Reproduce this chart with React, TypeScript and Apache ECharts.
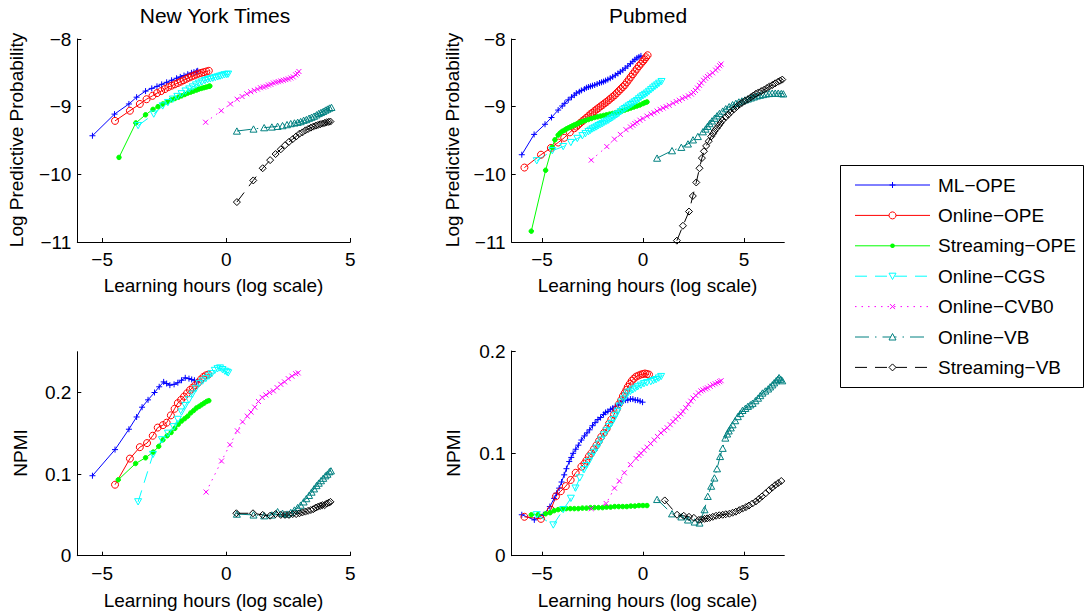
import React, { useEffect, useRef } from 'react';
import * as echarts from 'echarts';

// ---------- Data (x = log learning hours) ----------
const SERIES_NAMES = ['ML−OPE', 'Online−OPE', 'Streaming−OPE', 'Online−CGS', 'Online−CVB0', 'Online−VB', 'Streaming−VB'];
const PANEL_TITLES = ['New York Times', 'Pubmed'];
const X_TICKS = [-5, 0, 5];
const NPMI_NYT_TICKS = [0, 0.1, 0.2];

// New York Times — Log Predictive Probability
const nytLppMlOpe = [[-5.39,-9.43],[-4.5,-9.11],[-3.92,-8.96],[-3.61,-8.86],[-3.25,-8.77],[-3.0,-8.73],[-2.79,-8.70],[-2.6,-8.67],[-2.4,-8.64],[-2.2,-8.61],[-2.0,-8.58],[-1.85,-8.56],[-1.7,-8.54],[-1.55,-8.52],[-1.4,-8.50],[-1.3,-8.49],[-1.2,-8.48],[-1.15,-8.47]];
const nytLppOnlineOpe = [[-4.48,-9.21],[-3.88,-9.06],[-3.48,-8.96],[-3.21,-8.89],[-2.97,-8.84],[-2.79,-8.80],[-2.62,-8.77],[-2.47,-8.74],[-2.33,-8.71],[-2.2,-8.69],[-2.07,-8.67],[-1.95,-8.65],[-1.83,-8.63],[-1.72,-8.61],[-1.61,-8.59],[-1.5,-8.57],[-1.4,-8.555],[-1.3,-8.54],[-1.2,-8.525],[-1.1,-8.51],[-1.0,-8.50],[-0.9,-8.49],[-0.8,-8.48],[-0.7,-8.47]];
const nytLppStreamingOpe = [[-4.32,-9.75],[-3.64,-9.24],[-3.25,-9.12],[-2.95,-9.04],[-2.75,-9.0],[-2.55,-8.96],[-2.38,-8.93],[-2.22,-8.90],[-2.07,-8.88],[-1.93,-8.86],[-1.8,-8.84],[-1.67,-8.82],[-1.55,-8.80],[-1.43,-8.785],[-1.32,-8.77],[-1.2,-8.755],[-1.1,-8.74],[-1.0,-8.73],[-0.9,-8.72],[-0.8,-8.71],[-0.7,-8.70],[-0.66,-8.695]];
const nytLppOnlineCgs = [[-3.55,-9.28],[-2.92,-9.11],[-2.56,-8.99],[-2.35,-8.94],[-2.15,-8.89],[-1.97,-8.85],[-1.8,-8.81],[-1.64,-8.77],[-1.49,-8.74],[-1.35,-8.71],[-1.22,-8.68],[-1.1,-8.655],[-0.98,-8.635],[-0.86,-8.615],[-0.75,-8.60],[-0.64,-8.59],[-0.54,-8.58],[-0.44,-8.57],[-0.34,-8.56],[-0.25,-8.55],[-0.16,-8.54],[-0.07,-8.53],[0.02,-8.525],[0.08,-8.52]];
const nytLppOnlineCvb0 = [[-0.83,-9.23],[-0.2,-9.06],[0.17,-8.96],[0.44,-8.89],[0.64,-8.85],[0.83,-8.81],[0.99,-8.78],[1.13,-8.76],[1.26,-8.74],[1.38,-8.72],[1.5,-8.71],[1.6,-8.70],[1.7,-8.68],[1.8,-8.67],[1.9,-8.65],[2.0,-8.64],[2.1,-8.63],[2.2,-8.62],[2.3,-8.61],[2.4,-8.60],[2.5,-8.59],[2.6,-8.575],[2.7,-8.56],[2.8,-8.53],[2.87,-8.51],[2.93,-8.48]];
const nytLppOnlineVb = [[0.43,-9.36],[1.1,-9.33],[1.53,-9.31],[1.84,-9.30],[2.07,-9.29],[2.27,-9.28],[2.45,-9.265],[2.6,-9.25],[2.75,-9.24],[2.88,-9.23],[3.0,-9.22],[3.12,-9.20],[3.23,-9.19],[3.34,-9.17],[3.44,-9.155],[3.54,-9.14],[3.64,-9.12],[3.73,-9.10],[3.82,-9.085],[3.91,-9.07],[4.0,-9.05],[4.08,-9.035],[4.16,-9.02],[4.24,-9.01]];
const nytLppStreamingVb = [[0.43,-10.41],[1.09,-10.09],[1.47,-9.91],[1.77,-9.79],[1.99,-9.70],[2.2,-9.63],[2.37,-9.57],[2.53,-9.52],[2.68,-9.48],[2.82,-9.44],[2.95,-9.40],[3.07,-9.38],[3.19,-9.35],[3.3,-9.33],[3.41,-9.31],[3.51,-9.295],[3.61,-9.28],[3.7,-9.27],[3.79,-9.26],[3.88,-9.25],[3.97,-9.24],[4.05,-9.23],[4.13,-9.225],[4.2,-9.22]];

// Pubmed — Log Predictive Probability
const pmLppMlOpe = [[-6.0,-9.71],[-5.39,-9.41],[-4.85,-9.26],[-4.53,-9.16],[-4.2,-9.05],[-4.0,-8.99],[-3.87,-8.95],[-3.7,-8.90],[-3.54,-8.86],[-3.4,-8.83],[-3.3,-8.80],[-3.15,-8.78],[-3.05,-8.76],[-2.9,-8.74],[-2.8,-8.72],[-2.7,-8.71],[-2.6,-8.70],[-2.5,-8.69],[-2.39,-8.68],[-2.27,-8.665],[-2.15,-8.65],[-2.05,-8.64],[-1.95,-8.63],[-1.85,-8.615],[-1.74,-8.60],[-1.62,-8.58],[-1.5,-8.56],[-1.37,-8.535],[-1.24,-8.51],[-1.12,-8.485],[-1.0,-8.46],[-0.88,-8.43],[-0.75,-8.40],[-0.62,-8.365],[-0.5,-8.33],[-0.4,-8.305],[-0.3,-8.28],[-0.2,-8.265],[-0.1,-8.25]];
const pmLppOnlineOpe = [[-5.87,-9.90],[-5.05,-9.71],[-4.56,-9.61],[-4.2,-9.53],[-3.9,-9.46],[-3.62,-9.38],[-3.4,-9.32],[-3.3,-9.295],[-3.21,-9.27],[-3.1,-9.24],[-3.0,-9.215],[-2.9,-9.19],[-2.8,-9.165],[-2.7,-9.14],[-2.6,-9.11],[-2.5,-9.09],[-2.4,-9.065],[-2.3,-9.04],[-2.2,-9.02],[-2.1,-8.995],[-2.0,-8.975],[-1.9,-8.95],[-1.8,-8.93],[-1.7,-8.905],[-1.6,-8.88],[-1.5,-8.855],[-1.4,-8.83],[-1.3,-8.80],[-1.2,-8.77],[-1.1,-8.74],[-1.0,-8.71],[-0.9,-8.68],[-0.8,-8.64],[-0.7,-8.60],[-0.6,-8.56],[-0.5,-8.52],[-0.4,-8.48],[-0.3,-8.44],[-0.2,-8.40],[-0.1,-8.365],[0.0,-8.33],[0.08,-8.30],[0.15,-8.27],[0.23,-8.24]];
const pmLppStreamingOpe = [[-5.53,-10.84],[-4.82,-9.94],[-4.5,-9.60],[-4.36,-9.49],[-4.2,-9.42],[-4.1,-9.39],[-4.0,-9.365],[-3.9,-9.35],[-3.8,-9.33],[-3.7,-9.315],[-3.6,-9.30],[-3.5,-9.285],[-3.4,-9.27],[-3.3,-9.26],[-3.2,-9.245],[-3.1,-9.23],[-3.0,-9.22],[-2.85,-9.205],[-2.7,-9.19],[-2.55,-9.175],[-2.4,-9.16],[-2.25,-9.15],[-2.1,-9.14],[-1.95,-9.13],[-1.8,-9.12],[-1.65,-9.11],[-1.5,-9.10],[-1.35,-9.09],[-1.2,-9.08],[-1.05,-9.065],[-0.9,-9.05],[-0.75,-9.035],[-0.6,-9.02],[-0.45,-9.005],[-0.3,-8.99],[-0.15,-8.975],[0.0,-8.955],[0.1,-8.94],[0.2,-8.93]];
const pmLppOnlineCgs = [[-5.26,-9.80],[-4.49,-9.65],[-3.95,-9.59],[-3.57,-9.53],[-3.25,-9.47],[-3.0,-9.43],[-2.85,-9.40],[-2.7,-9.37],[-2.6,-9.35],[-2.5,-9.33],[-2.4,-9.315],[-2.3,-9.30],[-2.2,-9.28],[-2.1,-9.265],[-2.0,-9.25],[-1.9,-9.23],[-1.8,-9.215],[-1.7,-9.20],[-1.6,-9.18],[-1.5,-9.16],[-1.4,-9.14],[-1.3,-9.12],[-1.2,-9.10],[-1.1,-9.075],[-1.0,-9.05],[-0.9,-9.03],[-0.8,-9.01],[-0.7,-8.99],[-0.6,-8.97],[-0.5,-8.95],[-0.4,-8.93],[-0.3,-8.91],[-0.2,-8.885],[-0.1,-8.86],[0.0,-8.84],[0.1,-8.82],[0.2,-8.80],[0.3,-8.775],[0.4,-8.75],[0.5,-8.725],[0.6,-8.70],[0.7,-8.68],[0.8,-8.655],[0.92,-8.63]];
const pmLppOnlineCvb0 = [[-2.56,-9.79],[-1.79,-9.59],[-1.41,-9.48],[-1.12,-9.41],[-0.84,-9.34],[-0.62,-9.30],[-0.5,-9.275],[-0.4,-9.25],[-0.3,-9.23],[-0.15,-9.20],[0.0,-9.175],[0.2,-9.14],[0.4,-9.11],[0.55,-9.09],[0.7,-9.065],[0.85,-9.04],[1.0,-9.02],[1.15,-9.00],[1.3,-8.98],[1.49,-8.95],[1.65,-8.925],[1.8,-8.905],[1.95,-8.88],[2.1,-8.86],[2.25,-8.84],[2.4,-8.815],[2.5,-8.79],[2.6,-8.76],[2.7,-8.725],[2.8,-8.685],[2.89,-8.65],[3.0,-8.61],[3.1,-8.58],[3.2,-8.555],[3.3,-8.53],[3.45,-8.50],[3.6,-8.46],[3.7,-8.43],[3.8,-8.395],[3.87,-8.37]];
const pmLppOnlineVb = [[0.7,-9.76],[1.44,-9.65],[1.9,-9.60],[2.23,-9.55],[2.48,-9.49],[2.72,-9.44],[2.97,-9.37],[3.1,-9.33],[3.2,-9.29],[3.3,-9.25],[3.42,-9.21],[3.55,-9.17],[3.67,-9.135],[3.79,-9.10],[3.95,-9.065],[4.1,-9.03],[4.27,-9.0],[4.44,-8.97],[4.6,-8.95],[4.75,-8.93],[4.9,-8.915],[5.05,-8.90],[5.2,-8.885],[5.35,-8.87],[5.5,-8.855],[5.65,-8.84],[5.8,-8.83],[5.95,-8.82],[6.1,-8.81],[6.25,-8.805],[6.4,-8.80],[6.55,-8.80],[6.7,-8.80],[6.85,-8.805],[6.95,-8.81]];
const pmLppStreamingVb = [[1.68,-10.98],[1.98,-10.76],[2.28,-10.55],[2.47,-10.32],[2.64,-10.12],[2.8,-9.91],[2.92,-9.76],[3.02,-9.66],[3.13,-9.58],[3.26,-9.51],[3.38,-9.44],[3.47,-9.40],[3.55,-9.36],[3.65,-9.32],[3.75,-9.28],[3.85,-9.24],[3.95,-9.20],[4.1,-9.155],[4.22,-9.12],[4.35,-9.08],[4.5,-9.04],[4.63,-9.005],[4.77,-8.97],[4.9,-8.945],[5.05,-8.915],[5.2,-8.89],[5.35,-8.86],[5.47,-8.835],[5.59,-8.81],[5.72,-8.79],[5.86,-8.77],[6.0,-8.75],[6.14,-8.725],[6.27,-8.70],[6.41,-8.68],[6.55,-8.655],[6.7,-8.63],[6.8,-8.615],[6.9,-8.60]];

// New York Times — NPMI
const nytNpmiMlOpe = [[-5.39,0.098],[-4.48,0.130],[-3.92,0.155],[-3.61,0.170],[-3.39,0.182],[-3.15,0.191],[-2.89,0.200],[-2.7,0.207],[-2.52,0.213],[-2.4,0.211],[-2.27,0.209],[-2.1,0.210],[-1.95,0.212],[-1.8,0.215],[-1.65,0.218],[-1.5,0.217],[-1.39,0.216],[-1.28,0.215],[-1.19,0.213]];
const nytNpmiOnlineOpe = [[-4.48,0.087],[-3.88,0.119],[-3.48,0.133],[-3.19,0.138],[-2.96,0.147],[-2.76,0.157],[-2.55,0.160],[-2.4,0.163],[-2.23,0.172],[-2.08,0.180],[-1.95,0.187],[-1.82,0.191],[-1.7,0.195],[-1.58,0.199],[-1.46,0.203],[-1.35,0.206],[-1.24,0.209],[-1.13,0.212],[-1.02,0.216],[-0.92,0.219],[-0.82,0.221],[-0.72,0.222]];
const nytNpmiStreamingOpe = [[-4.35,0.093],[-3.65,0.113],[-3.25,0.120],[-2.94,0.127],[-2.72,0.134],[-2.55,0.142],[-2.38,0.147],[-2.22,0.151],[-2.07,0.156],[-1.93,0.161],[-1.8,0.165],[-1.67,0.168],[-1.55,0.171],[-1.43,0.175],[-1.31,0.178],[-1.2,0.181],[-1.09,0.183],[-0.99,0.185],[-0.89,0.187],[-0.79,0.189],[-0.7,0.190]];
const nytNpmiOnlineCgs = [[-3.55,0.066],[-2.95,0.124],[-2.59,0.142],[-2.35,0.150],[-2.12,0.158],[-1.95,0.167],[-1.8,0.176],[-1.65,0.184],[-1.5,0.191],[-1.36,0.198],[-1.22,0.205],[-1.08,0.211],[-0.95,0.214],[-0.82,0.217],[-0.7,0.220],[-0.58,0.223],[-0.46,0.227],[-0.35,0.229],[-0.25,0.230],[-0.15,0.228],[-0.05,0.226],[0.03,0.225],[0.08,0.224]];
const nytNpmiOnlineCvb0 = [[-0.81,0.078],[-0.19,0.116],[0.15,0.136],[0.45,0.153],[0.66,0.164],[0.85,0.171],[1.0,0.176],[1.15,0.182],[1.3,0.189],[1.45,0.194],[1.6,0.197],[1.75,0.200],[1.9,0.202],[2.05,0.206],[2.2,0.210],[2.35,0.213],[2.5,0.217],[2.65,0.220],[2.8,0.223],[2.9,0.224]];
const nytNpmiOnlineVb = [[0.43,0.051],[1.1,0.050],[1.53,0.049],[1.84,0.050],[2.07,0.054],[2.27,0.052],[2.45,0.051],[2.6,0.053],[2.75,0.056],[2.88,0.059],[3.0,0.062],[3.12,0.066],[3.23,0.070],[3.34,0.074],[3.44,0.078],[3.54,0.082],[3.64,0.086],[3.73,0.089],[3.82,0.092],[3.91,0.095],[4.0,0.098],[4.08,0.100],[4.16,0.103],[4.22,0.104]];
const nytNpmiStreamingVb = [[0.41,0.052],[1.08,0.052],[1.47,0.050],[1.77,0.049],[1.99,0.051],[2.2,0.050],[2.37,0.050],[2.53,0.050],[2.68,0.051],[2.82,0.051],[2.95,0.052],[3.07,0.053],[3.19,0.054],[3.3,0.055],[3.41,0.056],[3.51,0.057],[3.61,0.059],[3.7,0.060],[3.79,0.061],[3.88,0.062],[3.97,0.062],[4.05,0.064],[4.13,0.065],[4.2,0.066]];

// Pubmed — NPMI
const pmNpmiMlOpe = [[-6.0,0.040],[-5.38,0.035],[-4.93,0.040],[-4.61,0.048],[-4.4,0.056],[-4.28,0.061],[-4.15,0.066],[-4.03,0.072],[-3.9,0.079],[-3.79,0.085],[-3.65,0.092],[-3.55,0.096],[-3.46,0.100],[-3.33,0.104],[-3.2,0.108],[-3.05,0.113],[-2.9,0.117],[-2.77,0.120],[-2.64,0.123],[-2.5,0.127],[-2.37,0.130],[-2.23,0.133],[-2.1,0.135],[-1.95,0.138],[-1.85,0.140],[-1.74,0.141],[-1.6,0.143],[-1.5,0.144],[-1.37,0.146],[-1.24,0.147],[-1.1,0.149],[-1.0,0.151],[-0.87,0.152],[-0.75,0.152],[-0.62,0.153],[-0.5,0.153],[-0.38,0.152],[-0.26,0.152],[-0.14,0.151],[-0.02,0.150]];
const pmNpmiOnlineOpe = [[-5.87,0.038],[-5.05,0.036],[-4.56,0.045],[-4.31,0.058],[-4.07,0.063],[-3.82,0.068],[-3.58,0.074],[-3.33,0.081],[-3.05,0.087],[-2.9,0.090],[-2.8,0.093],[-2.68,0.097],[-2.56,0.100],[-2.43,0.104],[-2.3,0.108],[-2.18,0.112],[-2.07,0.116],[-1.93,0.120],[-1.8,0.124],[-1.68,0.129],[-1.57,0.133],[-1.43,0.138],[-1.3,0.143],[-1.19,0.148],[-1.08,0.152],[-0.99,0.156],[-0.9,0.159],[-0.82,0.162],[-0.75,0.165],[-0.65,0.168],[-0.55,0.171],[-0.45,0.173],[-0.34,0.175],[-0.22,0.176],[-0.1,0.177],[0.0,0.1775],[0.1,0.178],[0.2,0.1775],[0.3,0.177]];
const pmNpmiStreamingOpe = [[-5.53,0.040],[-5.2,0.040],[-4.82,0.041],[-4.6,0.042],[-4.4,0.044],[-4.2,0.045],[-4.0,0.0455],[-3.8,0.046],[-3.6,0.046],[-3.4,0.046],[-3.2,0.046],[-3.0,0.0465],[-2.8,0.0465],[-2.6,0.047],[-2.4,0.047],[-2.2,0.047],[-2.0,0.047],[-1.8,0.0475],[-1.6,0.0475],[-1.4,0.048],[-1.2,0.048],[-1.0,0.048],[-0.8,0.048],[-0.6,0.0485],[-0.4,0.0485],[-0.2,0.049],[0.0,0.049],[0.2,0.049]];
const pmNpmiOnlineCgs = [[-5.26,0.040],[-4.44,0.030],[-3.95,0.045],[-3.57,0.056],[-3.34,0.066],[-3.13,0.076],[-2.92,0.084],[-2.8,0.088],[-2.68,0.092],[-2.56,0.097],[-2.43,0.101],[-2.3,0.105],[-2.18,0.109],[-2.07,0.113],[-1.93,0.118],[-1.8,0.122],[-1.68,0.126],[-1.57,0.129],[-1.46,0.133],[-1.35,0.137],[-1.26,0.141],[-1.17,0.146],[-1.06,0.150],[-0.95,0.153],[-0.85,0.156],[-0.75,0.159],[-0.62,0.1605],[-0.5,0.162],[-0.38,0.1635],[-0.26,0.165],[-0.1,0.1665],[0.05,0.168],[0.2,0.169],[0.39,0.170],[0.52,0.171],[0.65,0.172],[0.78,0.1735],[0.9,0.175]];
const pmNpmiOnlineCvb0 = [[-2.56,0.046],[-1.82,0.051],[-1.41,0.066],[-1.17,0.073],[-0.92,0.081],[-0.62,0.089],[-0.34,0.095],[-0.2,0.098],[-0.1,0.100],[0.05,0.103],[0.2,0.106],[0.38,0.1095],[0.56,0.113],[0.72,0.1165],[0.89,0.120],[1.05,0.1225],[1.2,0.125],[1.35,0.128],[1.49,0.131],[1.62,0.1335],[1.75,0.136],[1.87,0.1385],[1.98,0.141],[2.12,0.1445],[2.25,0.148],[2.37,0.151],[2.48,0.154],[2.62,0.1565],[2.75,0.159],[2.87,0.161],[2.97,0.162],[3.1,0.163],[3.2,0.164],[3.33,0.1655],[3.46,0.167],[3.58,0.168],[3.7,0.169],[3.8,0.170],[3.87,0.171]];
const pmNpmiOnlineVb = [[0.7,0.055],[1.44,0.041],[1.9,0.038],[2.23,0.035],[2.56,0.033],[2.8,0.032],[3.05,0.045],[3.21,0.058],[3.38,0.068],[3.54,0.076],[3.67,0.085],[3.82,0.097],[3.95,0.105],[4.08,0.115],[4.17,0.119],[4.25,0.122],[4.35,0.125],[4.44,0.128],[4.57,0.132],[4.7,0.136],[4.82,0.139],[4.93,0.142],[5.07,0.144],[5.2,0.146],[5.32,0.1475],[5.43,0.149],[5.57,0.1515],[5.7,0.154],[5.81,0.1565],[5.92,0.159],[6.06,0.161],[6.2,0.163],[6.3,0.165],[6.41,0.167],[6.5,0.169],[6.6,0.171],[6.68,0.1725],[6.74,0.174],[6.82,0.1725],[6.9,0.171]];
const pmNpmiStreamingVb = [[1.08,0.054],[1.69,0.040],[2.02,0.039],[2.28,0.038],[2.52,0.037],[2.77,0.035],[2.9,0.0355],[3.05,0.036],[3.18,0.0365],[3.3,0.037],[3.46,0.038],[3.62,0.039],[3.78,0.0395],[3.95,0.040],[4.1,0.0405],[4.28,0.041],[4.44,0.042],[4.6,0.043],[4.77,0.0445],[4.93,0.046],[5.1,0.0475],[5.25,0.049],[5.42,0.051],[5.59,0.053],[5.75,0.0555],[5.9,0.058],[6.08,0.061],[6.25,0.064],[6.4,0.0665],[6.55,0.069],[6.7,0.071],[6.85,0.073]];

const PANELS = [
  [nytLppMlOpe, nytLppOnlineOpe, nytLppStreamingOpe, nytLppOnlineCgs, nytLppOnlineCvb0, nytLppOnlineVb, nytLppStreamingVb],
  [pmLppMlOpe, pmLppOnlineOpe, pmLppStreamingOpe, pmLppOnlineCgs, pmLppOnlineCvb0, pmLppOnlineVb, pmLppStreamingVb],
  [nytNpmiMlOpe, nytNpmiOnlineOpe, nytNpmiStreamingOpe, nytNpmiOnlineCgs, nytNpmiOnlineCvb0, nytNpmiOnlineVb, nytNpmiStreamingVb],
  [pmNpmiMlOpe, pmNpmiOnlineOpe, pmNpmiStreamingOpe, pmNpmiOnlineCgs, pmNpmiOnlineCvb0, pmNpmiOnlineVb, pmNpmiStreamingVb],
];

// ---------- Styles ----------
const FONT = '"Liberation Sans", Arial, Helvetica, sans-serif';
const COLORS = ['#0000ff', '#ff0000', '#00ff00', '#00ffff', '#ff00ff', '#008080', '#000000'];
const DASHED = [12, 8];
const DOTTED = [1.5, 5];
const DASHDOT = [14, 6, 1.5, 6];
const MARKERS = [
  { symbol: 'path://M5,0L5,10M0,5L10,5', size: 6, filled: true, dash: 'solid' as any },
  { symbol: 'circle', size: 7, filled: false, dash: 'solid' as any },
  { symbol: 'circle', size: 4.5, filled: true, dash: 'solid' as any },
  { symbol: 'path://M0,0L10,0L5,9Z', size: 7, filled: false, dash: DASHED as any },
  { symbol: 'path://M0,0L10,10M10,0L0,10', size: 5, filled: true, dash: DOTTED as any },
  { symbol: 'path://M5,0L10,9L0,9Z', size: 7, filled: false, dash: DASHDOT as any },
  { symbol: 'path://M5,0L10,5L5,10L0,5Z', size: 7, filled: false, dash: DASHED as any },
];

const GRIDS = [
  { left: 77.3, top: 39, width: 273, height: 203 },
  { left: 511.7, top: 39, width: 272.6, height: 203 },
  { left: 77.3, top: 351.7, width: 273, height: 204 },
  { left: 511.7, top: 351, width: 272.6, height: 204.7 },
];

const minus = (v: number) => String(v).replace('-', '−');

function buildOption() {
  const axisLineStyle = { color: '#000', width: 1 };
  const labelStyle = { fontSize: 19, color: '#000', fontFamily: FONT };
  const xAxis = GRIDS.map((_, i) => {
    const nyt = i % 2 === 0;
    return {
      type: 'value', gridIndex: i,
      min: nyt ? -6 : -6.5, max: nyt ? 5 : 7,
      axisLine: { show: true, onZero: false, lineStyle: axisLineStyle },
      axisTick: { show: true, inside: true, length: 4, lineStyle: axisLineStyle, customValues: X_TICKS },
      axisLabel: { ...labelStyle, margin: 8, customValues: X_TICKS, formatter: minus },
      splitLine: { show: false },
    };
  });
  const yAxis = GRIDS.map((_, i) => {
    const base: any = {
      type: 'value', gridIndex: i,
      axisLine: { show: true, onZero: false, lineStyle: axisLineStyle },
      axisTick: { show: true, inside: true, length: 4, lineStyle: axisLineStyle },
      axisLabel: { ...labelStyle, margin: 6, formatter: minus },
      splitLine: { show: false },
    };
    if (i < 2) { base.min = -11; base.max = -8; base.interval = 1; }
    else if (i === 2) {
      base.min = 0; base.max = 0.25;
      base.axisTick.customValues = NPMI_NYT_TICKS;
      base.axisLabel.customValues = NPMI_NYT_TICKS;
    } else { base.min = 0; base.max = 0.2; base.interval = 0.1; }
    return base;
  });

  const series: any[] = [];
  PANELS.forEach((panel, pi) => {
    panel.forEach((data, si) => {
      const m = MARKERS[si];
      const c = COLORS[si];
      series.push({
        type: 'line', name: SERIES_NAMES[si], xAxisIndex: pi, yAxisIndex: pi,
        data, symbol: m.symbol, symbolSize: m.size, symbolKeepAspect: true,
        showSymbol: true, clip: true,
        lineStyle: { color: c, width: 1, type: m.dash },
        itemStyle: { color: m.filled ? c : 'none', borderColor: c, borderWidth: 1 },
        emphasis: { disabled: true },
      });
    });
  });

  const txt = (text: string, x: number, y: number, size: number, rot = 0) => ({
    type: 'text', x, y, rotation: rot, silent: true,
    style: { text, fill: '#000', font: `${size}px ${FONT}`, textAlign: 'center', textVerticalAlign: 'middle' },
  });

  const graphic: any[] = [
    txt(PANEL_TITLES[0], 215, 15, 21),
    txt(PANEL_TITLES[1], 648, 15, 21),
    txt('Log Predictive Probability', 16, 140, 19, Math.PI / 2),
    txt('Log Predictive Probability', 452, 140, 19, Math.PI / 2),
    txt('NPMI', 20, 453, 19, Math.PI / 2),
    txt('NPMI', 453, 453, 19, Math.PI / 2),
    txt('Learning hours (log scale)', 213.5, 285, 19),
    txt('Learning hours (log scale)', 647.5, 285, 19),
    txt('Learning hours (log scale)', 213.5, 600, 19),
    txt('Learning hours (log scale)', 647.5, 600, 19),
    { type: 'rect', shape: { x: 840.5, y: 165.5, width: 243, height: 222 }, style: { fill: '#fff', stroke: '#000', lineWidth: 1 }, silent: true },
  ];

  SERIES_NAMES.forEach((name, i) => {
    const cy = 185 + i * 30.4;
    const cx = 892.5;
    const c = COLORS[i];
    const m = MARKERS[i];
    graphic.push({
      type: 'line', silent: true,
      shape: { x1: 855, y1: cy, x2: 930, y2: cy },
      style: { stroke: c, lineWidth: 1, lineDash: Array.isArray(m.dash) ? m.dash : null },
    });
    const st = { stroke: c, lineWidth: 1, fill: 'none' };
    if (i === 0 || i === 4) {
      const r = i === 0 ? 3 : 2.5;
      const segs = i === 0
        ? [[cx - r, cy, cx + r, cy], [cx, cy - r, cx, cy + r]]
        : [[cx - r, cy - r, cx + r, cy + r], [cx + r, cy - r, cx - r, cy + r]];
      segs.forEach(s => graphic.push({ type: 'line', silent: true, shape: { x1: s[0], y1: s[1], x2: s[2], y2: s[3] }, style: st }));
    } else if (i === 1) {
      graphic.push({ type: 'circle', silent: true, shape: { cx, cy, r: 3.5 }, style: { ...st, fill: '#fff' } });
    } else if (i === 2) {
      graphic.push({ type: 'circle', silent: true, shape: { cx, cy, r: 2.3 }, style: { fill: c } });
    } else if (i === 3) {
      graphic.push({ type: 'polygon', silent: true, shape: { points: [[cx - 3.5, cy - 3], [cx + 3.5, cy - 3], [cx, cy + 3.3]] }, style: { ...st, fill: '#fff' } });
    } else if (i === 5) {
      graphic.push({ type: 'polygon', silent: true, shape: { points: [[cx, cy - 3.5], [cx + 3.5, cy + 3], [cx - 3.5, cy + 3]] }, style: { ...st, fill: '#fff' } });
    } else {
      graphic.push({ type: 'polygon', silent: true, shape: { points: [[cx, cy - 3.5], [cx + 3.5, cy], [cx, cy + 3.5], [cx - 3.5, cy]] }, style: { ...st, fill: '#fff' } });
    }
    graphic.push({
      type: 'text', silent: true, x: 938, y: cy,
      style: { text: name, fill: '#000', font: `19px ${FONT}`, textAlign: 'left', textVerticalAlign: 'middle' },
    });
  });

  return {
    animation: false,
    backgroundColor: '#fff',
    grid: GRIDS.map(g => ({ ...g, containLabel: false })),
    xAxis, yAxis, series, graphic,
  };
}

export default function App() {
  const ref = useRef<HTMLDivElement>(null);
  useEffect(() => {
    if (!ref.current) return;
    const chart = echarts.init(ref.current, undefined, { renderer: 'svg' });
    chart.setOption(buildOption() as any);
    return () => chart.dispose();
  }, []);
  return <div ref={ref} style={{ position: 'fixed', left: 0, top: 0, width: 1086, height: 611, background: '#fff' }} />;
}
